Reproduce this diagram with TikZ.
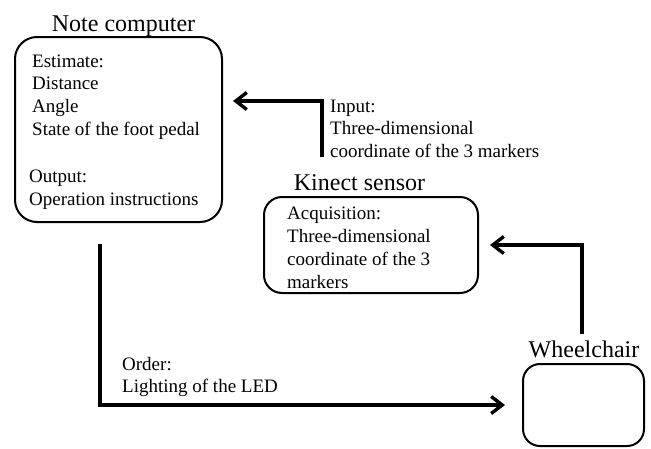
\documentclass[tikz,border=0pt]{standalone}
\usepackage{fontspec}
\setmainfont{Liberation Serif}
\usetikzlibrary{positioning, arrows.meta}
\tikzset{rounded box/.style={draw, line width=2pt, rounded corners=18pt, inner sep=0pt},
	box title/.style={anchor=base, inner sep=0pt, font=\fontsize{24}{28}\selectfont},
	plain text/.style={anchor=north west, inner sep=0pt, align=left, font=\fontsize{19}{22.7}\selectfont},
	flow/.style={line width=3.4pt, -{Straight Barb[length=11pt, width=17pt]}}}

\begin{document}
\begin{tikzpicture}[x=1pt, y=-1pt]
			\useasboundingbox (0,0) rectangle (651,448);
			\node[rounded box, minimum width=207pt, minimum height=185pt, rounded corners=22pt] (comp) at (118.5,129.5) {};
			\node[rounded box, minimum width=214pt, minimum height=96pt] (kin) at (371,245) {};
			\node[rounded box, minimum width=121pt, minimum height=82pt, rounded corners=17pt] (wheel) at (583.5,405) {};
			
			\node[box title] (compname) at (123.5,31.5) {Note computer};
			\node[box title] (kinname) at (359.5,190) {Kinect sensor};
			\node[box title] (wheelname) at (584,357) {Wheelchair};
			
			\node[plain text] (estimate) at (32,54.4) {Estimate:\\Distance\\Angle\\State of the foot pedal};
			\node[plain text] (output) at (29,169.9) {Output:\\Operation instructions};
			\node[plain text, font=\fontsize{19}{23}\selectfont] (acq) at (287,206.4) {Acquisition:\\Three-dimensional\\coordinate of the 3\\markers};
			\node[plain text, font=\fontsize{19}{22.5}\selectfont] (input) at (330,99.4) {Input:\\Three-dimensional\\coordinate of the 3 markers};
			\node[plain text, font=\fontsize{19}{22}\selectfont] (order) at (122,357) {Order:\\Lighting of the LED};
			
			\draw[flow] ([xshift=-49pt, yshift=39pt] kin.north) |- ([xshift=10pt, yshift=28.5pt] comp.east);
			\draw[flow] ([xshift=-18.5pt, yshift=-21pt] comp.south) |- ([xshift=-17pt] wheel.west);
			\draw[flow] ([xshift=-1.5pt, yshift=29pt] wheel.north) |- ([xshift=11pt] kin.east);
		\end{tikzpicture}
\end{document}
